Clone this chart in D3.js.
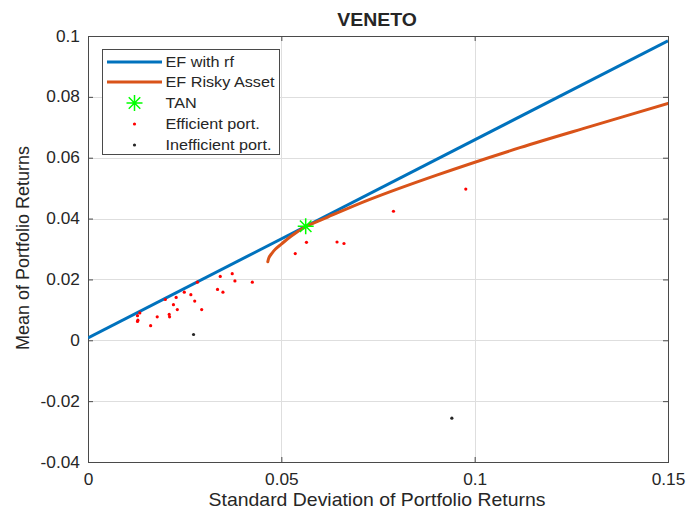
<!DOCTYPE html>
<html>
<head>
<meta charset="utf-8">
<script src="https://cdn.jsdelivr.net/npm/d3@7"></script>
<style>
  html, body { margin: 0; padding: 0; background: #fff; }
  svg { display: block; }
  text { font-family: "Liberation Sans", Arial, Helvetica, sans-serif; fill: #262626; }
</style>
</head>
<body>
<svg id="chart" width="687" height="514"></svg>
<script>
// Capital market line (risk-free asset + tangency portfolio)
const cmlSigma = [0, 0.15];
const cmlMean  = [0.0008, 0.0984];

// Efficient frontier of risky assets
const frontierSigma = [0.0465, 0.0468, 0.0475, 0.0485, 0.0500, 0.0525, 0.0563, 0.0620, 0.0729, 0.0900, 0.1117, 0.1300, 0.1500];
const frontierMean  = [0.0258, 0.0272, 0.0285, 0.0300, 0.0316, 0.0342, 0.0373, 0.0405, 0.0463, 0.0542, 0.0633, 0.0703, 0.0778];

// Tangency portfolio
const tanSigma = [0.0563];
const tanMean  = [0.0375];

// Efficient portfolios
const effSigma = [0.0128, 0.0134, 0.0129, 0.0128, 0.0162, 0.0179, 0.0200, 0.0210, 0.0211, 0.0221, 0.0228, 0.0231, 0.0249, 0.0266, 0.0276, 0.0283, 0.0294, 0.0335, 0.0342, 0.0349, 0.0373, 0.0380, 0.0425, 0.0536, 0.0565, 0.0644, 0.0662, 0.0790, 0.0977];
const effMean  = [0.0081, 0.0090, 0.0066, 0.0062, 0.0048, 0.0077, 0.0134, 0.0085, 0.0077, 0.0117, 0.0141, 0.0101, 0.0158, 0.0150, 0.0129, 0.0191, 0.0101, 0.0167, 0.0210, 0.0158, 0.0219, 0.0195, 0.0191, 0.0285, 0.0322, 0.0323, 0.0318, 0.0424, 0.0497];

// Inefficient portfolios
const ineffSigma = [0.0273, 0.0941];
const ineffMean  = [0.0019, -0.0256];

// Axis ticks
const xTicks = [0, 0.05, 0.1, 0.15];
const xTickLabels = ["0", "0.05", "0.1", "0.15"];
const yTicks = [-0.04, -0.02, 0, 0.02, 0.04, 0.06, 0.08, 0.1];
const yTickLabels = ["-0.04", "-0.02", "0", "0.02", "0.04", "0.06", "0.08", "0.1"];

const legendLabels = ["EF with rf", "EF Risky Asset", "TAN", "Efficient port.", "Inefficient port."];

const colors = { cml: "#0072BD", frontier: "#D95319", tan: "#00FF00", eff: "#FF0000", ineff: "#262626" };

// Horizontal stretch applied to all upright text
const SX = 1.08;

const svg = d3.select("#chart");
const plot = { left: 88, top: 36, right: 668, bottom: 462 };

const x = d3.scaleLinear().domain([0, 0.15]).range([plot.left, plot.right]);
const y = d3.scaleLinear().domain([-0.04, 0.1]).range([plot.bottom, plot.top]);

// Grid
const grid = svg.append("g").attr("stroke", "#dedede").attr("stroke-width", 1);
grid.selectAll("line.gx").data(xTicks.slice(1, -1)).enter().append("line")
  .attr("x1", d => Math.round(x(d)) + 0.5).attr("x2", d => Math.round(x(d)) + 0.5)
  .attr("y1", plot.top).attr("y2", plot.bottom);
grid.selectAll("line.gy").data(yTicks.slice(1, -1)).enter().append("line")
  .attr("y1", d => Math.round(y(d)) + 0.5).attr("y2", d => Math.round(y(d)) + 0.5)
  .attr("x1", plot.left).attr("x2", plot.right);

// Axes with inward ticks
const axisColor = "#4a4a4a";
function styleAxis(g) {
  g.select(".domain").remove();
  g.selectAll(".tick line").attr("stroke", axisColor);
  g.selectAll(".tick text").style("font-size", "16px").attr("fill", "#262626")
    .attr("transform", `scale(${SX},1)`);
}
const fmtX = (d, i) => xTickLabels[i];
const fmtY = (d, i) => yTickLabels[i];

svg.append("g").attr("transform", `translate(0,${plot.bottom})`)
  .call(d3.axisBottom(x).tickValues(xTicks).tickFormat(fmtX).tickSizeInner(-5).tickSizeOuter(0).tickPadding(12))
  .call(styleAxis);
svg.append("g").attr("transform", `translate(0,${plot.top})`)
  .call(d3.axisTop(x).tickValues(xTicks).tickFormat("").tickSizeInner(-5).tickSizeOuter(0))
  .call(styleAxis);
svg.append("g").attr("transform", `translate(${plot.left},0)`)
  .call(d3.axisLeft(y).tickValues(yTicks).tickFormat(fmtY).tickSizeInner(-5).tickSizeOuter(0).tickPadding(7.5))
  .call(styleAxis);
svg.append("g").attr("transform", `translate(${plot.right},0)`)
  .call(d3.axisRight(y).tickValues(yTicks).tickFormat("").tickSizeInner(-5).tickSizeOuter(0))
  .call(styleAxis);

// Frame
svg.append("rect")
  .attr("x", plot.left + 0.5).attr("y", plot.top + 0.5)
  .attr("width", plot.right - plot.left).attr("height", plot.bottom - plot.top)
  .attr("fill", "none").attr("stroke", axisColor).attr("stroke-width", 1);

// Clip for data
svg.append("clipPath").attr("id", "clip").append("rect")
  .attr("x", plot.left).attr("y", plot.top)
  .attr("width", plot.right - plot.left).attr("height", plot.bottom - plot.top);
const data = svg.append("g").attr("clip-path", "url(#clip)");

// Capital market line
data.append("path")
  .datum(cmlSigma.map((s, i) => [s, cmlMean[i]]))
  .attr("d", d3.line().x(d => x(d[0])).y(d => y(d[1])))
  .attr("fill", "none").attr("stroke", colors.cml).attr("stroke-width", 3);

// Efficient frontier
data.append("path")
  .datum(frontierSigma.map((s, i) => [s, frontierMean[i]]))
  .attr("d", d3.line().curve(d3.curveCatmullRom).x(d => x(d[0])).y(d => y(d[1])))
  .attr("fill", "none").attr("stroke", colors.frontier).attr("stroke-width", 3)
  .attr("stroke-linecap", "round");

// Portfolio points drawn as small dots
function dot(g, cx, cy, color) {
  g.append("circle").attr("cx", cx).attr("cy", cy).attr("r", 1.6).attr("fill", color);
}
const effG = data.append("g");
effSigma.forEach((s, i) => dot(effG, x(s), y(effMean[i]), colors.eff));
const ineffG = data.append("g");
ineffSigma.forEach((s, i) => dot(ineffG, x(s), y(ineffMean[i]), colors.ineff));

// Asterisk marker
function asterisk(g, cx, cy, r) {
  const p = d3.path();
  p.moveTo(cx - r, cy); p.lineTo(cx + r, cy);
  p.moveTo(cx, cy - r); p.lineTo(cx, cy + r);
  const k = r * 0.72;
  p.moveTo(cx - k, cy - k); p.lineTo(cx + k, cy + k);
  p.moveTo(cx - k, cy + k); p.lineTo(cx + k, cy - k);
  g.append("path").attr("d", p.toString()).attr("stroke", colors.tan).attr("stroke-width", 1.5).attr("fill", "none");
}
tanSigma.forEach((s, i) => asterisk(data, x(s), y(tanMean[i]), 8));

// Title and axis labels
svg.append("text").attr("transform", `translate(377,26) scale(${SX},1)`).attr("text-anchor", "middle")
  .style("font-size", "18px").style("font-weight", "bold").attr("fill", "#000").text("VENETO");
svg.append("text").attr("transform", `translate(377,506) scale(${SX},1)`).attr("text-anchor", "middle")
  .style("font-size", "18px").text("Standard Deviation of Portfolio Returns");
svg.append("text").attr("transform", "translate(29,248) rotate(-90)").attr("text-anchor", "middle")
  .style("font-size", "18px").text("Mean of Portfolio Returns");

// Legend
const lg = svg.append("g");
lg.append("rect").attr("x", 102.5).attr("y", 49.5).attr("width", 177).attr("height", 105)
  .attr("fill", "#fff").attr("stroke", axisColor).attr("stroke-width", 1);
const rowY = [62, 82, 103, 124, 145];
legendLabels.forEach((lab, i) => {
  lg.append("text").attr("transform", `translate(165.5,${rowY[i]}) scale(${SX},1)`).attr("dy", "0.35em")
    .style("font-size", "15px").text(lab);
});
lg.append("line").attr("x1", 107).attr("x2", 162).attr("y1", rowY[0]).attr("y2", rowY[0])
  .attr("stroke", colors.cml).attr("stroke-width", 3);
lg.append("line").attr("x1", 107).attr("x2", 162).attr("y1", rowY[1]).attr("y2", rowY[1])
  .attr("stroke", colors.frontier).attr("stroke-width", 3);
asterisk(lg, 134.5, rowY[2], 8);
dot(lg, 134.5, rowY[3], colors.eff);
dot(lg, 134.5, rowY[4], colors.ineff);
</script>
</body>
</html>
